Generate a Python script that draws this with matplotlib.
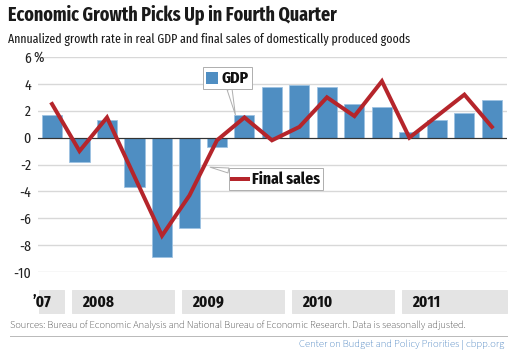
import matplotlib
matplotlib.use("Agg")
import matplotlib.pyplot as plt
from matplotlib.patches import Rectangle
from matplotlib.lines import Line2D
from matplotlib.transforms import blended_transform_factory
from matplotlib.offsetbox import AnnotationBbox, DrawingArea, TextArea, HPacker

# quarterly data, 2007 Q4 .. 2011 Q4
quarters = ["2007Q4", "2008Q1", "2008Q2", "2008Q3", "2008Q4",
            "2009Q1", "2009Q2", "2009Q3", "2009Q4",
            "2010Q1", "2010Q2", "2010Q3", "2010Q4",
            "2011Q1", "2011Q2", "2011Q3", "2011Q4"]
gdp = [1.7, -1.8, 1.3, -3.7, -8.9, -6.7, -0.7, 1.7, 3.8, 3.9, 3.8, 2.5, 2.3, 0.4, 1.3, 1.8, 2.8]
final_sales = [2.5, -1.0, 1.5, -2.9, -7.3, -4.3, -0.2, 1.5, -0.2, 0.8, 3.0, 1.6, 4.2, 0.0, 1.6, 3.2, 0.8]

years = ["\u201907", "2008", "2009", "2010", "2011"]
year_first = [0, 1, 5, 9, 13]
year_last = [0, 4, 8, 12, 16]

yticks = [6, 4, 2, 0, -2, -4, -6, -8, -10]

BLUE = "#4f8ec2"
RED = "#b5252b"
GRAY = "#d8d8d8"
COND = ["Fira Sans Extra Condensed", "Fira Sans Condensed", "DejaVu Sans"]
REG = ["Source Sans 3", "Source Sans Pro", "Fira Sans", "DejaVu Sans"]
plt.rcParams["font.family"] = COND

W, H = 513, 351
fig = plt.figure(figsize=(W / 72, H / 72), dpi=72)
fig.patch.set_facecolor("white")

def fx(x):
    return x / W

def fy(y):
    return 1 - y / H

ax = fig.add_axes([fx(38), fy(272), fx(507) - fx(38), fy(57) - fy(272)])
x = list(range(len(quarters)))

for t in yticks:
    if t != 0:
        ax.axhline(t, color=GRAY, lw=1.4, zorder=0)
ax.bar(x, gdp, width=0.73, color=BLUE, edgecolor="#9cc2e2", linewidth=0.8, zorder=2)
ax.axhline(0, color="#333333", lw=1.2, zorder=3)
ax.plot(x, final_sales, color=RED, lw=4, solid_joinstyle="miter", zorder=4)

ax.set_xlim(-0.51, 16.55)
ax.set_ylim(-10, 6)
ax.set_xticks([])
ax.set_yticks(yticks)
ax.set_yticklabels([str(t) if t >= 0 else "-" + str(-t) for t in yticks])
ax.tick_params(axis="y", length=0, pad=7, labelsize=15, labelcolor="#222222")
for s in ax.spines.values():
    s.set_visible(False)
ax.set_facecolor("none")
fig.text(fx(33), fy(58), "%", fontsize=15, color="#222222", va="center", ha="left")

# year bands under the plot
tr = blended_transform_factory(ax.transData, fig.transFigure)
for i in range(len(years)):
    left = year_first[i] - 0.28 if i > 0 else -0.47
    right = year_last[i] + 0.45 if i < len(years) - 1 else 16.55
    ax.add_patch(Rectangle((left, fy(313)), right - left, fy(290) - fy(313),
                           transform=tr, color="#e4e4e4", clip_on=False, zorder=0))
    lx = left + 0.37 if i > 0 else -0.7
    ax.text(lx, fy(302), years[i], transform=tr, fontsize=16.5, fontweight="bold",
            va="center", ha="left", color="#111111")

# callout legends
def callout(marker, label, xy, box_xy):
    txt = TextArea(label, textprops=dict(fontsize=17, fontweight="bold", color="#111111",
                                         family=COND))
    pack = HPacker(children=[marker, txt], align="center", pad=0, sep=4)
    ab = AnnotationBbox(pack, xy, xybox=box_xy, xycoords="data", boxcoords="figure pixels",
                        pad=0.35, frameon=True,
                        bboxprops=dict(boxstyle="square,pad=0.3", fc="white", ec="#b0b0b0", lw=1),
                        arrowprops=dict(arrowstyle="wedge,tail_width=0.5", fc="white",
                                        ec="#b0b0b0", lw=1, shrinkA=0, shrinkB=0),
                        zorder=6)
    ax.add_artist(ab)

sq = DrawingArea(12, 12, 0, 0)
sq.add_artist(Rectangle((0, 0), 12, 12, fc=BLUE, ec="none"))
callout(sq, "GDP", (7 - 0.33, gdp[7]), (227, H - 78))

ln = DrawingArea(16, 12, 0, 0)
ln.add_artist(Line2D([0, 16], [6, 6], color=RED, lw=4))
callout(ln, "Final sales", (5.75, -2.2), (276, H - 179))

fig.text(fx(8), fy(15), "Economic Growth Picks Up in Fourth Quarter", fontsize=19.6,
         fontweight="bold", color="#1a1a1a", va="center", ha="left")
fig.text(fx(8), fy(40), "Annualized growth rate in real GDP and final sales of domestically produced goods",
         fontsize=12.8, color="#1a1a1a", va="center", ha="left")
fig.text(fx(10), fy(325), "Sources: Bureau of Economic Analysis and National Bureau of Economic Research. Data is seasonally adjusted.",
         fontsize=10.4, color="#222222", va="center", ha="left", family=REG)
fig.add_artist(Line2D([fx(10), fx(507)], [fy(336), fy(336)], color="#bbbbbb", lw=1))
fig.text(fx(504), fy(345), "Center on Budget and Policy Priorities | cbpp.org", fontsize=10.6,
         color="#2a6db5", va="center", ha="right", family=REG)

fig.savefig("out.png", dpi=72)
